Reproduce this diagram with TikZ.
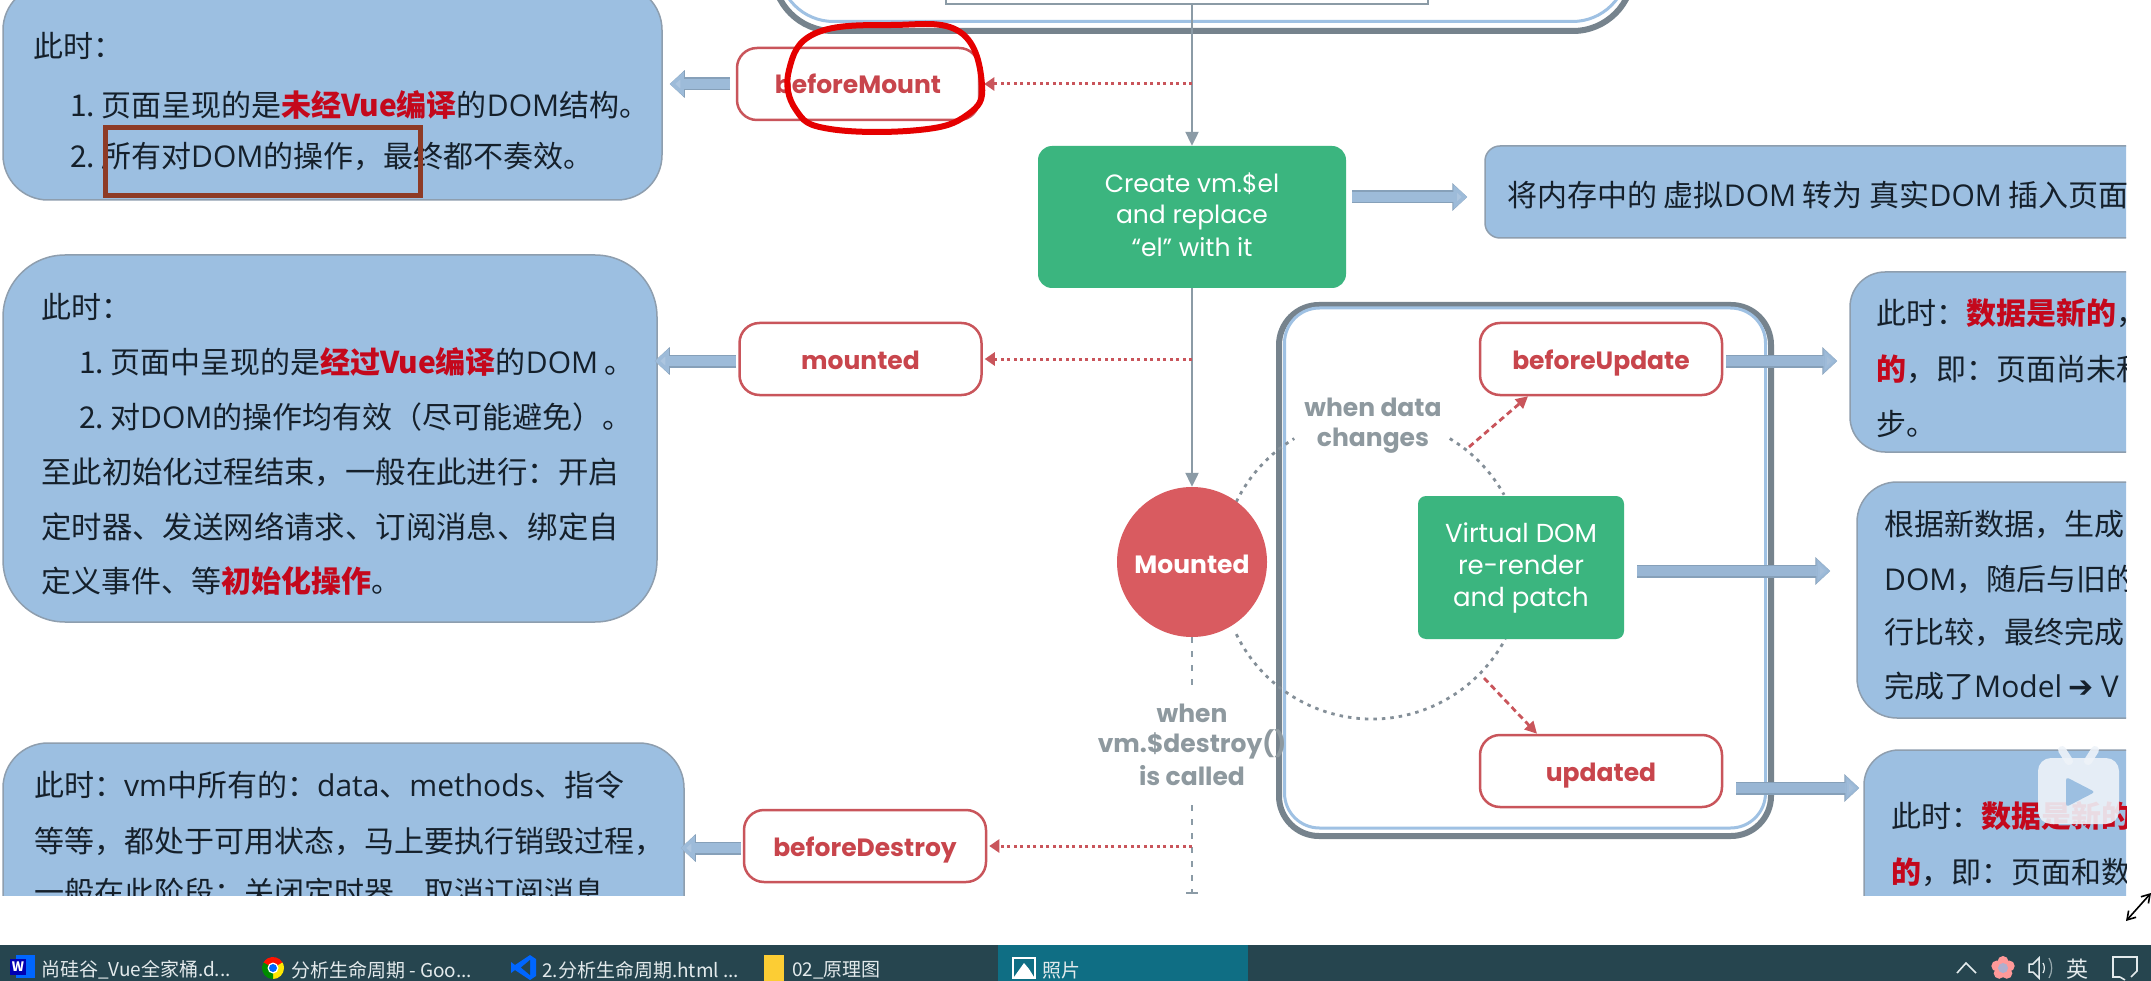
\documentclass[tikz,border=0pt]{standalone}
\usepackage{fontspec}
\usetikzlibrary{arrows.meta,calc}
\setmainfont{Noto Sans CJK SC}
\newfontfamily\popf{Poppins}
\newfontfamily\dejav{DejaVu Sans}
\newfontfamily\olf{Open Sans}
\definecolor{boxblue}{HTML}{9CBFE1}
\definecolor{boxedge}{HTML}{8E9EAE}
\definecolor{gr}{HTML}{3BB57F}
\definecolor{redline}{HTML}{C9555B}
\definecolor{redfill}{HTML}{D95B60}
\definecolor{redtxt}{HTML}{C8454C}
\definecolor{hot}{HTML}{C4081C}
\definecolor{brownbox}{HTML}{8E3B26}
\definecolor{inkc}{HTML}{15202B}
\definecolor{slate}{HTML}{8B9BA6}
\definecolor{labelg}{HTML}{8E999F}
\definecolor{arrfill}{HTML}{9DBBD9}
\definecolor{arredge}{HTML}{86A0B9}
\definecolor{frameg}{HTML}{76838D}
\definecolor{frameb}{HTML}{9FC1E3}
\definecolor{bar}{HTML}{26454F}
\definecolor{tab}{HTML}{0F6E84}
\definecolor{barink}{HTML}{E3EAEC}
\definecolor{tvwhite}{HTML}{EEF3F9}
\newcommand{\fs}[1]{\fontsize{#1}{#1}\selectfont}
\newcommand{\rd}[1]{{\color{hot}\bfseries #1}}
\newcommand{\nm}[1]{\makebox[31pt][l]{#1}}
\newcommand{\ol}[1]{{\olf #1}}
\tikzset{
  bluebox/.style={draw=boxedge,line width=1.5pt,fill=boxblue,inner sep=0pt},
  redbox/.style={draw=redline,fill=white,line width=2.5pt,rounded corners=20pt,minimum width=242pt,minimum height=72pt,inner sep=0pt,text=redtxt,text height=24pt,text depth=4pt,font=\popf\bfseries\fs{25}},
  greenbox/.style={fill=gr,rounded corners=14pt,inner sep=0pt},
  greentext/.style={inner sep=0pt,text=white,align=center,font=\popf\fs{25}},
  ln/.style={anchor=base west,inner sep=0pt,text=inkc,font=\fs{30}},
  lnw/.style={anchor=base west,inner sep=0pt,text=inkc,font=\fs{30.4}},
  glabel/.style={inner sep=0pt,text=labelg,align=center,font=\popf\bfseries\fs{25}},
  mainflow/.style={draw=slate,line width=2.2pt,-{Triangle[length=14pt,width=13pt,fill=slate]}},
  reddot/.style={draw=redline,line width=3pt,dash pattern=on 3pt off 3.5pt,-{Triangle[length=10pt,width=13pt,fill=redline]}},
  reddash/.style={draw=redline,line width=2.8pt,dash pattern=on 6pt off 4pt,-{Triangle[length=12pt,width=12pt,fill=redline]}},
  greydot/.style={draw=frameg!90!white,line width=2.8pt,dash pattern=on 3.5pt off 5pt},
  greydash/.style={draw=slate,line width=2pt,dash pattern=on 6pt off 8pt},
  blockarrow/.style={draw=arrfill,line width=10pt,-{Triangle[length=14pt,width=24pt,fill=arrfill!85!white]},
    preaction={draw=arredge,line width=13pt,-{Triangle[length=15pt,width=27pt,fill=arredge]}}},
  framebox/.style={draw=frameg,fill=white,line width=6pt,inner sep=0pt},
  frameinner/.style={draw=frameb,line width=3pt,inner sep=0pt},
  barText/.style={anchor=west,inner sep=0pt,text=barink,font=\fs{19}},
}
\begin{document}
\begin{tikzpicture}[x=1pt,y=-1pt]
\useasboundingbox (0,0) rectangle (2151,981);
\fill[white] (0,0) rectangle (2151,981);
\begin{scope}
\clip (0,0) rectangle (2126,895);

% top big frame
\node[framebox,rounded corners=60pt,minimum width=860pt,minimum height=190pt] (topframe) at (1203,-64) {};
\node[frameinner,rounded corners=55pt,minimum width=849pt,minimum height=179pt] (topinner) at (1203,-68) {};
\node[draw=slate,fill=white,line width=2.5pt,inner sep=0pt,minimum width=482pt,minimum height=64pt] (elbox) at (1187,-28) {};

% left blue boxes
\node[bluebox,rounded corners=45pt,minimum width=659pt,minimum height=215pt] (A) at (332.5,92.5) {};
\node[ln] (a1) at (33,58) {此时：};
\node[ln] (a2) at (70,117) {\nm{1.}页面呈现的是\rd{未经Vue编译}的\ol{DOM}结构。};
\node[ln] (a3) at (70,168) {\nm{2.}所有对\ol{DOM}的操作，最终都不奏效。};

\node[bluebox,rounded corners=62pt,minimum width=654pt,minimum height=367pt] (C) at (330,438.5) {};
\node[ln] (c1) at (41,319) {此时：};
\node[ln] (c2) at (79,373) {\nm{1.}页面中呈现的是\rd{经过Vue编译}的\ol{DOM} 。};
\node[ln] (c3) at (79,428) {\nm{2.}对\ol{DOM}的操作均有效（尽可能避免）。};
\node[lnw] (c4) at (41,483) {至此初始化过程结束，一般在此进行：开启};
\node[lnw] (c5) at (41,538) {定时器、发送网络请求、订阅消息、绑定自};
\node[ln] (c6) at (41,592) {定义事件、等\rd{初始化操作}。};

\node[bluebox,rounded corners=45pt,minimum width=681pt,minimum height=260pt] (F) at (343.5,873) {};
\node[ln] (f1) at (34,796) {此时：\ol{vm}中所有的：\ol{data}、\ol{methods}、指令};
\node[ln] (f2) at (34,852) {等等，都处于可用状态，马上要执行销毁过程，};
\node[ln] (f3) at (34,903) {一般在此阶段：关闭定时器、取消订阅消息};

% right blue boxes
\node[bluebox,rounded corners=15pt,minimum width=695pt,minimum height=92pt] (B) at (1832.5,192) {};
\node[ln] (b1) at (1507,207) {将内存中的 虚拟\ol{DOM} 转为 真实\ol{DOM} 插入页面};

\node[bluebox,rounded corners=35pt,minimum width=400pt,minimum height=180pt] (U1) at (2050,362) {};
\node[ln] (u1) at (1876,325) {此时：\rd{数据是新的}，};
\node[ln] (u2) at (1876,380) {\rd{的}，即：页面尚未和};
\node[ln] (u3) at (1876,435) {步。};

\node[bluebox,rounded corners=40pt,minimum width=400pt,minimum height=236pt] (U2) at (2057,600) {};
\node[ln] (v1) at (1884,535) {根据新数据，生成};
\node[ln] (v2) at (1884,590) {\ol{DOM}，随后与旧的};
\node[ln] (v3) at (1884,643) {行比较，最终完成};
\node[ln] (v4) at (1884,697) {完成了\ol{Model} {\dejav ➔} \ol{V}};

\node[bluebox,rounded corners=35pt,minimum width=400pt,minimum height=240pt] (U3) at (2064,870) {};
\node[ln] (w1) at (1891,827) {此时：\rd{数据是新的}};
\node[ln] (w2) at (1891,883) {\rd{的}，即：页面和数};

% update frame
\node[framebox,rounded corners=40pt,minimum width=492pt,minimum height=531pt] (frame) at (1525,570.5) {};
\node[frameinner,rounded corners=35pt,minimum width=481pt,minimum height=520pt] (frameIn) at (1525,568) {};

% dotted cycle
\coordinate (cyc) at (1372,568);
\draw[greydot] (cyc) ++(206:151pt) arc[start angle=206,end angle=332,radius=151pt];
\draw[greydot] (cyc) ++(154:151pt) arc[start angle=154,end angle=121,radius=151pt];
\draw[greydot] (cyc) ++(59:151pt) arc[start angle=59,end angle=29,radius=151pt];

% process nodes
\node[greenbox,minimum width=308pt,minimum height=142pt] (g1) at (1192,217) {};
\node[greentext] (g1t) at (1192,215) {Create vm.\$el\\[6pt]and replace\\[6pt]“el” with it};
\node[greenbox,rounded corners=8pt,minimum width=206pt,minimum height=143pt] (g2) at (1521,567.5) {};
\node[greentext,font=\popf\fs{26}] (g2t) at (1521,568) {Virtual DOM\\[6pt]re-render\\[6pt]and patch};
\node[circle,fill=redfill,minimum size=150pt,inner sep=0pt,text=white,text height=26pt,text depth=4pt,font=\popf\bfseries\fs{25}] (M) at (1192,562) {Mounted};

\node[redbox] (bm) at (858,84) {beforeMount};
\node[redbox] (mt) at (860.5,359) {mounted};
\node[redbox] (bd) at (865,846) {beforeDestroy};
\node[redbox] (bu) at (1601,359) {beforeUpdate};
\node[redbox] (up) at (1601,771) {updated};

\node[glabel] (wdc) at (1373,426) {when data\\[5pt]changes};
\node[glabel] (wvd) at (1192,745) {when\\[5pt]vm.\$destroy()\\[5pt]is called};

% main flow
\draw[mainflow] (g1.north |- elbox.south) -- (g1.north);
\draw[mainflow] (g1.south) -- (M.north);
\coordinate (dashA) at (1192,687);
\coordinate (dashB) at (1192,805);
\coordinate (dashC) at (1192,893);
\draw[greydash] (M.south) -- (dashA);
\draw[greydash] (dashB) -- (dashC);
\draw[slate,line width=1.5pt] ($(dashC)+(-6,0)$) -- ($(dashC)+(6,0)$);

% red dotted
\draw[reddot,shorten >=4pt] (bm.east -| g1.south) -- (bm.east);
\draw[reddot,shorten >=2pt] (mt.east -| g1.south) -- (mt.east);
\draw[reddot,shorten >=2pt] (bd.east -| M.south) -- (bd.east);
\coordinate (cycTop) at (1469,447);
\coordinate (cycBot) at (1484,678);
\draw[reddash] (cycTop) -- ([xshift=-73pt]bu.south);
\draw[reddash] (cycBot) -- ([xshift=-64pt]up.north);

% block arrows
\draw[blockarrow,shorten <=6pt,shorten >=7pt] (bm.west) -- (bm.west -| A.east);
\draw[blockarrow,shorten <=2pt,shorten >=-3pt] ([yshift=-2pt]mt.west) -- ([yshift=-2pt]mt.west -| C.east);
\draw[blockarrow,shorten <=2pt,shorten >=-4pt] ([yshift=-2pt]bd.west) -- ([yshift=-2pt]bd.west -| F.east);
\draw[blockarrow,shorten <=6pt,shorten >=17pt] ([yshift=20pt]g1.east) -- ([yshift=20pt]g1.east -| B.west);
\draw[blockarrow,opacity=.85,shorten <=3pt,shorten >=12pt] ([yshift=-2pt]bu.east) -- ([yshift=-2pt]bu.east -| U1.west);
\draw[blockarrow,opacity=.85,shorten <=13pt,shorten >=26pt] ([yshift=-3.5pt]g2.east) -- ([yshift=-3.5pt]g2.east -| U2.west);
\draw[blockarrow,opacity=.85,shorten <=13pt,shorten >=4pt] ([yshift=-17pt]up.east) -- ([yshift=-17pt]up.east -| U3.west);

% annotations
\draw[draw=brownbox,line width=5pt] (105,128) rectangle (420,196);
\draw[red!90!black,line width=6pt] plot[smooth cycle,tension=.7] coordinates {(892,25) (960,32) (982,85) (967,115) (919,130) (830,129) (796,110) (789,70) (816,33)};
\end{scope}

% taskbar
\fill[bar] (0,945) rectangle (2151,981);
\fill[tab] (998,945) rectangle (1248,981);
\fill[blue!60!cyan] (16,955) rectangle (35,978);
\fill[blue!70!black] (10,959) rectangle (26,975);
\node[anchor=center,inner sep=0pt,text=white,font=\bfseries\fs{13}] (wicon) at (18,967) {W};
\node[barText] (t1) at (41,970) {尚硅谷\_Vue全家桶.d...};
\fill[red!85!orange] (273,968) -- ++(30:11pt) arc[start angle=30,end angle=150,radius=11pt] -- cycle;
\fill[yellow!90!orange] (273,968) -- ++(-90:11pt) arc[start angle=-90,end angle=30,radius=11pt] -- cycle;
\fill[green!55!black] (273,968) -- ++(150:11pt) arc[start angle=150,end angle=270,radius=11pt] -- cycle;
\fill[white] (273,968) circle (5.5pt);
\fill[blue!60!cyan] (273,968) circle (4pt);
\node[barText] (t2) at (291,970) {分析生命周期 - Goo...};
\fill[blue!60!cyan] (530,955) -- (536,959) -- (536,976) -- (530,980) -- (515,970) -- (511,973) -- (511,962) -- (515,965) -- (530,955);
\fill[bar] (530,960) -- (521,967.5) -- (530,975) -- cycle;
\node[barText] (t3) at (542,970) {2.分析生命周期.html ...};
\fill[yellow!55!orange!80!white] (764,955) rectangle (784,981);
\node[barText] (t4) at (792,970) {02\_原理图};
\fill[white] (1012,957) rectangle (1036,979);
\fill[tab] (1014,959) rectangle (1034,977);
\fill[white] (1014,977) -- (1024,963) -- (1029,969) -- (1034,977) -- cycle;
\node[barText] (t5) at (1042,970) {照片};
\draw[barink,line width=1.6pt] (1957,973) -- (1966,963) -- (1976,973);
\foreach \a in {90,162,234,306,18} \fill[red!40!white] (2003,968) ++(\a:6.5pt) circle (5.5pt);
\fill[blue!25!gray!50!white] (2003,968) circle (5pt);
\draw[barink,line width=1.5pt] (2029,964) -- (2033,964) -- (2039,958) -- (2039,978) -- (2033,972) -- (2029,972) -- cycle;
\draw[barink,line width=1.2pt] (2043,963) arc[start angle=30,end angle=-30,radius=10pt];
\draw[barink!60!bar,line width=1.2pt] (2049,958) arc[start angle=30,end angle=-30,radius=20pt];
\node[anchor=center,inner sep=0pt,text=barink,font=\fs{22}] (ying) at (2077,969) {英};
\draw[barink,line width=1.6pt] (2131,977) -- (2137,971) -- (2137,957) -- (2113,957) -- (2113,977) -- (2120,977);
\draw[barink,line width=1.6pt] (2120,977) -- (2125,980);

% bilibili icon
\begin{scope}[opacity=.9]
\draw[tvwhite,line width=8pt,line cap=round] (2062,750) -- (2069,761);
\draw[tvwhite,line width=8pt,line cap=round] (2095,750) -- (2088,761);
\fill[tvwhite,rounded corners=13pt] (2038,758) rectangle (2119,824);
\end{scope}
\fill[boxblue,rounded corners=3pt] (2066,777) -- (2095,792) -- (2066,807) -- cycle;

% resize arrow
\coordinate (rsA) at (2126,921);
\coordinate (rsB) at (2151,893);
\draw[black,line width=1.6pt,{Straight Barb[length=8pt,width=10pt]}-{Straight Barb[length=8pt,width=10pt]}] (rsA) -- (rsB);
\end{tikzpicture}
\end{document}
